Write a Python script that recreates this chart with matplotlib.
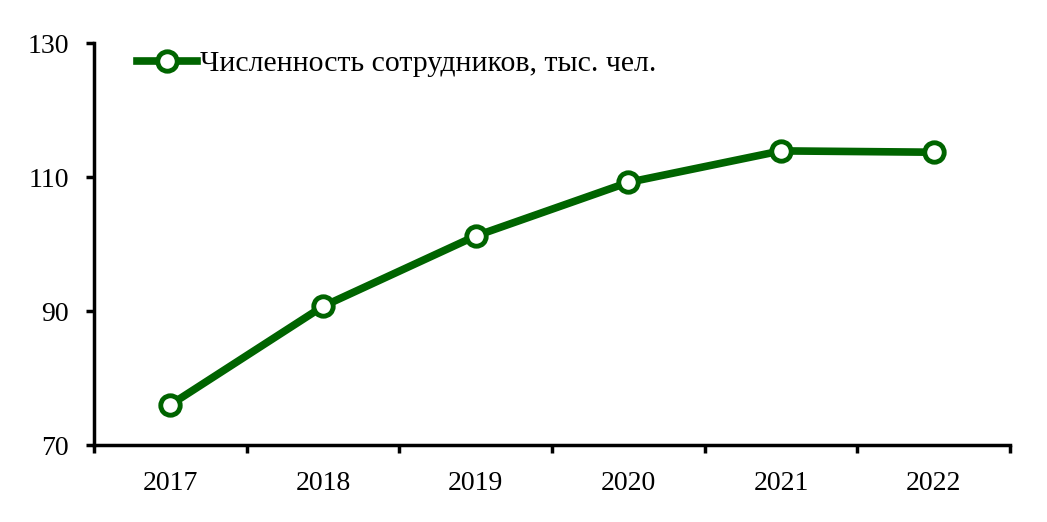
import matplotlib
matplotlib.use("Agg")
import matplotlib.pyplot as plt
import numpy as np

years = ["2017", "2018", "2019", "2020", "2021", "2022"]
staff = [76.0, 90.7, 101.2, 109.2, 113.9, 113.7]
series_label = "Численность сотрудников, тыс. чел."
y_ticks = [70, 90, 110, 130]

plt.rcParams["font.family"] = ["Liberation Serif", "DejaVu Serif"]
plt.rcParams["font.size"] = 20

green = "#006400"

fig = plt.figure(figsize=(10.47, 5.22), dpi=100)
ax = fig.add_axes([0.0898, 0.1475, 0.8749, 0.7701])

x = np.arange(len(years))
ax.plot(
    x, staff, color=green, linewidth=5.5, marker="o", markersize=14,
    markerfacecolor="white", markeredgecolor=green, markeredgewidth=3.5,
    label=series_label, zorder=3,
)

ax.set_xlim(-0.5, len(years) - 0.5)
ax.set_ylim(70, 130)
ax.set_yticks(y_ticks)
ax.set_xticks(np.arange(len(years) + 1) - 0.5)
ax.set_xticklabels([])
ax.set_xticks(x, minor=True)
ax.set_xticklabels(years, minor=True, fontsize=20)
ax.tick_params(axis="x", which="minor", length=0, pad=19)
ax.tick_params(axis="x", which="major", length=6, width=2.5, direction="out")
ax.tick_params(axis="y", length=6, width=2.5, direction="out", pad=12,
               labelsize=20)

for side in ["top", "right"]:
    ax.spines[side].set_visible(False)
for side in ["left", "bottom"]:
    ax.spines[side].set_linewidth(2.5)

ax.legend(
    loc="upper left", bbox_to_anchor=(0.018, 1.048), frameon=False,
    handlelength=2.0, handletextpad=0.1, numpoints=1, fontsize=21.5,
)

fig.savefig("out.png", dpi=100)
